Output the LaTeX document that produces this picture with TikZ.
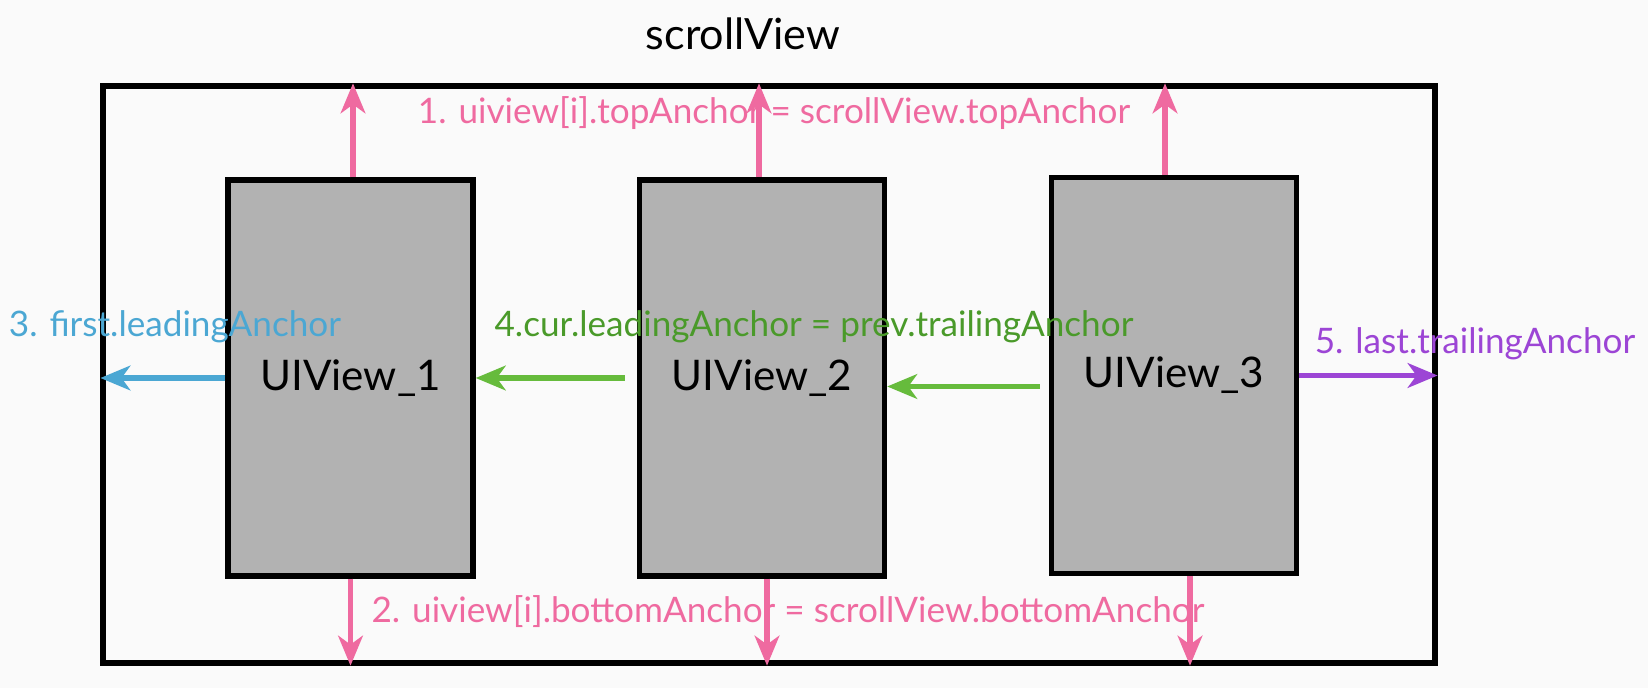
\documentclass[tikz,border=0pt]{standalone}
\usepackage{fontspec}
\setmainfont{Lato}
\usetikzlibrary{arrows.meta}
\definecolor{anchorpink}{HTML}{EF6AA0}
\definecolor{anchorblue}{HTML}{4BA7D3}
\definecolor{anchorgreen}{HTML}{66BB3C}
\definecolor{anchorgreentext}{HTML}{4A9A2A}
\definecolor{anchorpurple}{HTML}{9C45D5}
\definecolor{viewgray}{HTML}{B2B2B2}
\definecolor{pagebg}{HTML}{FAFAFA}
\tikzset{
  scrollbox/.style={draw, line width=3.1pt, minimum width=26.64cm,
                    minimum height=11.54cm, inner sep=0pt},
  viewbox/.style={draw, fill=viewgray, line width=3.1pt, minimum width=4.9cm,
                  minimum height=7.92cm, inner sep=0pt, font=\fontsize{24}{28}\selectfont},
  anchorarrow/.style={line width=3.1pt, -{Stealth[length=17pt, width=14pt, inset=5pt]}},
  anchorlabel/.style={inner sep=0pt, font=\fontsize{20}{24}\selectfont},
}

\begin{document}
\begin{tikzpicture}[x=0.02cm, y=-0.02cm]
    \fill[pagebg] (0,0) rectangle (1648,688);
    \useasboundingbox (0,0) rectangle (1648,688);
    \node[scrollbox] (scroll) at (769, 374.5) {};
    \node[inner sep=0pt, font=\fontsize{24.5}{28}\selectfont] (title) at (743, 34) {scrollView};
    \node[viewbox] (v1) at (350.5, 378) {UIView\_1};
    \node[viewbox] (v2) at (762, 378) {UIView\_2};
    \node[viewbox] (v3) at (1174, 375.5) {UIView\_3};
    % 1. top anchors
    \draw[anchorarrow, anchorpink] ([xshift=0.05cm]v1.north) -- ([xshift=0.05cm]v1.north |- scroll.north);
    \draw[anchorarrow, anchorpink] ([xshift=-0.06cm]v2.north) -- ([xshift=-0.06cm]v2.north |- scroll.north);
    \draw[anchorarrow, anchorpink] ([xshift=-0.18cm]v3.north) -- ([xshift=-0.18cm]v3.north |- scroll.north);
    \node[anchorlabel, text=anchorpink] (toplbl) at (774, 113) {1. uiview[i].topAnchor = scrollView.topAnchor};
    % 2. bottom anchors
    \draw[anchorarrow, anchorpink] (v1.south) -- (v1.south |- scroll.south);
    \draw[anchorarrow, anchorpink] ([xshift=0.1cm]v2.south) -- ([xshift=0.1cm]v2.south |- scroll.south);
    \draw[anchorarrow, anchorpink] ([xshift=0.32cm]v3.south) -- ([xshift=0.32cm]v3.south |- scroll.south);
    \node[anchorlabel, text=anchorpink] (botlbl) at (788, 612) {2. uiview[i].bottomAnchor = scrollView.bottomAnchor};
    % 3. leading
    \draw[anchorarrow, anchorblue] (v1.west) -- (v1.west -| scroll.west);
    \node[anchorlabel, text=anchorblue] (leadlbl) at (175, 327) {3. first.leadingAnchor};
    % 4. chain
    \draw[anchorarrow, anchorgreen, shorten <=0.24cm] (v2.west) -- (v1.east);
    \draw[anchorarrow, anchorgreen, shorten <=0.18cm] ([yshift=-0.22cm]v3.west) -- ([yshift=-0.22cm]v3.west -| v2.east);
    \node[anchorlabel, text=anchorgreentext] (chainlbl) at (814, 327) {4.cur.leadingAnchor = prev.trailingAnchor};
    % 5. trailing
    \draw[anchorarrow, anchorpurple] (v3.east) -- (v3.east -| scroll.east);
    \node[anchorlabel, text=anchorpurple] (traillbl) at (1475, 344) {5. last.trailingAnchor};
  \end{tikzpicture}
\end{document}
